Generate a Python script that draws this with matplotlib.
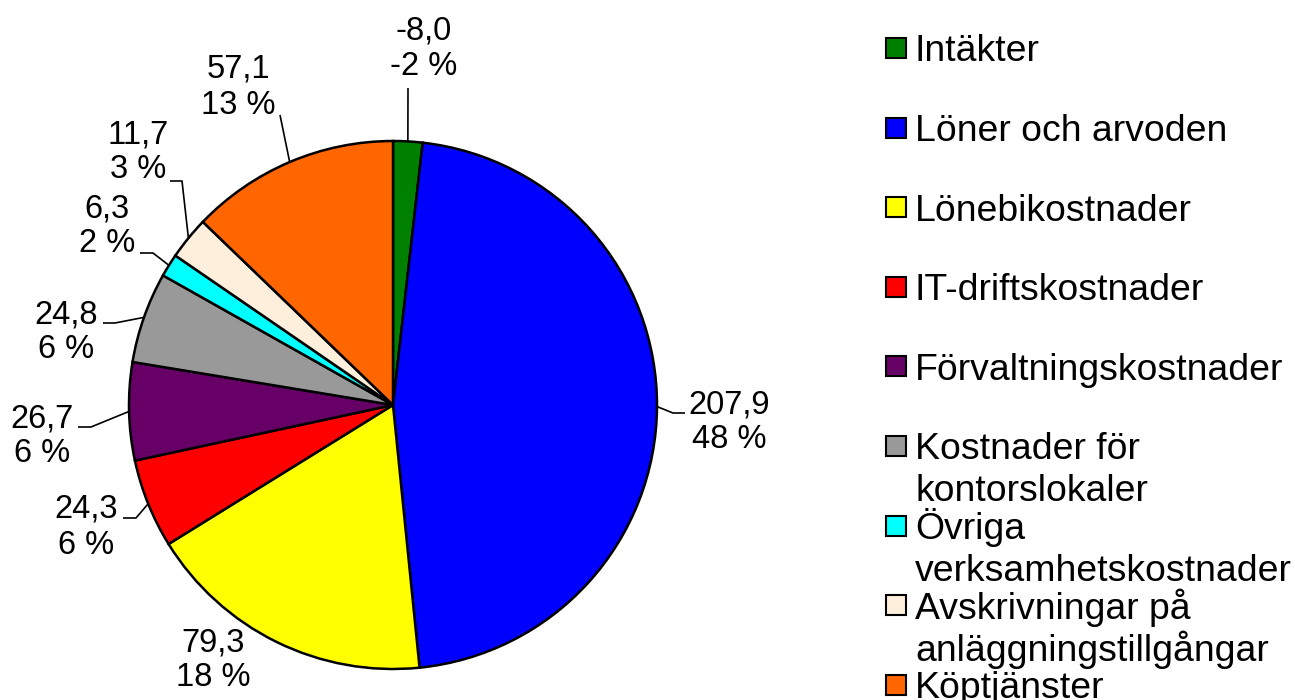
import matplotlib
matplotlib.use("Agg")
import matplotlib.pyplot as plt
from matplotlib.patches import Rectangle
import numpy as np

plt.rcParams['font.family'] = ['Liberation Sans', 'DejaVu Sans']

# ---- data ----
categories = ["Intäkter", "Löner och arvoden", "Lönebikostnader", "IT-driftskostnader",
              "Förvaltningskostnader", "Kostnader för\nkontorslokaler", "Övriga\nverksamhetskostnader",
              "Avskrivningar på\nanläggningstillgångar", "Köptjänster"]
values = [-8.0, 207.9, 79.3, 24.3, 26.7, 24.8, 6.3, 11.7, 57.1]
percent_labels = ["-2 %", "48 %", "18 %", "6 %", "6 %", "6 %", "2 %", "3 %", "13 %"]
colors = ["#008000", "#0000FF", "#FFFF00", "#FF0000", "#660066", "#999999",
          "#00FFFF", "#FDEFDB", "#FF6600"]

# ---- layout (pixels, y measured from top) ----
W, H = 1295, 700
center_px = (393, 405)
radius_px = 264
# label: (x center, baseline of first line)
label_pos = [(424, 39.5), (729, 413), (213, 651), (86, 518), (42, 427),
             (66, 323), (107, 217), (138, 143), (238, 78)]
# leader line elbow points (None = no leader); each is list of points after edge point
leaders = [[(408, 88)],
           [(673, 413), (685, 413)],
           None,
           [(136, 518), (123, 518)],
           [(91, 427), (78, 427)],
           [(115, 323), (103, 323)],
           [(153, 253), (140, 253)],
           [(182, 181), (170, 181)],
           [(280, 115)]]
line_gap = 35.5
label_fs = 23.5
legend_fs = 26.9
legend_x_box = 886
legend_x_text = 915
legend_y0 = 48
legend_dy = 79.6
legend_wrap = 42

def Y(py):
    return H - py

fig = plt.figure(figsize=(W / 100, H / 100), dpi=100)
ax = fig.add_axes([0, 0, 1, 1])

wedges, _ = ax.pie(np.abs(values), colors=colors, startangle=90, counterclock=False,
                   center=(center_px[0], Y(center_px[1])), radius=radius_px,
                   wedgeprops=dict(edgecolor="black", linewidth=1.8))
ax.set_xlim(0, W)
ax.set_ylim(0, H)
ax.set_aspect("auto")
ax.axis("off")

for i, w in enumerate(wedges):
    mid = np.deg2rad((w.theta1 + w.theta2) / 2)
    ex = center_px[0] + radius_px * np.cos(mid)
    ey = Y(center_px[1]) + radius_px * np.sin(mid)
    if leaders[i] is not None:
        xs = [ex] + [p[0] for p in leaders[i]]
        ys = [ey] + [Y(p[1]) for p in leaders[i]]
        ax.plot(xs, ys, color="black", lw=1.2, solid_capstyle="butt")
    lx, lb = label_pos[i]
    val_txt = f"{values[i]:.1f}".replace(".", ",")
    ax.text(lx, Y(lb), val_txt, ha="center", va="baseline", fontsize=label_fs)
    ax.text(lx, Y(lb + line_gap), percent_labels[i], ha="center", va="baseline", fontsize=label_fs)

# ---- legend ----
cap_half = 0.716 * legend_fs * 100 / 72 / 2
for i, (cat, col) in enumerate(zip(categories, colors)):
    yc = legend_y0 + i * legend_dy
    ax.add_patch(Rectangle((legend_x_box, Y(yc + 10)), 20, 20, facecolor=col,
                           edgecolor="black", lw=1.5))
    for j, line in enumerate(cat.split("\n")):
        ax.text(legend_x_text, Y(yc + cap_half + j * legend_wrap), line, ha="left",
                va="baseline", fontsize=legend_fs)

fig.savefig("out.png", dpi=100)
